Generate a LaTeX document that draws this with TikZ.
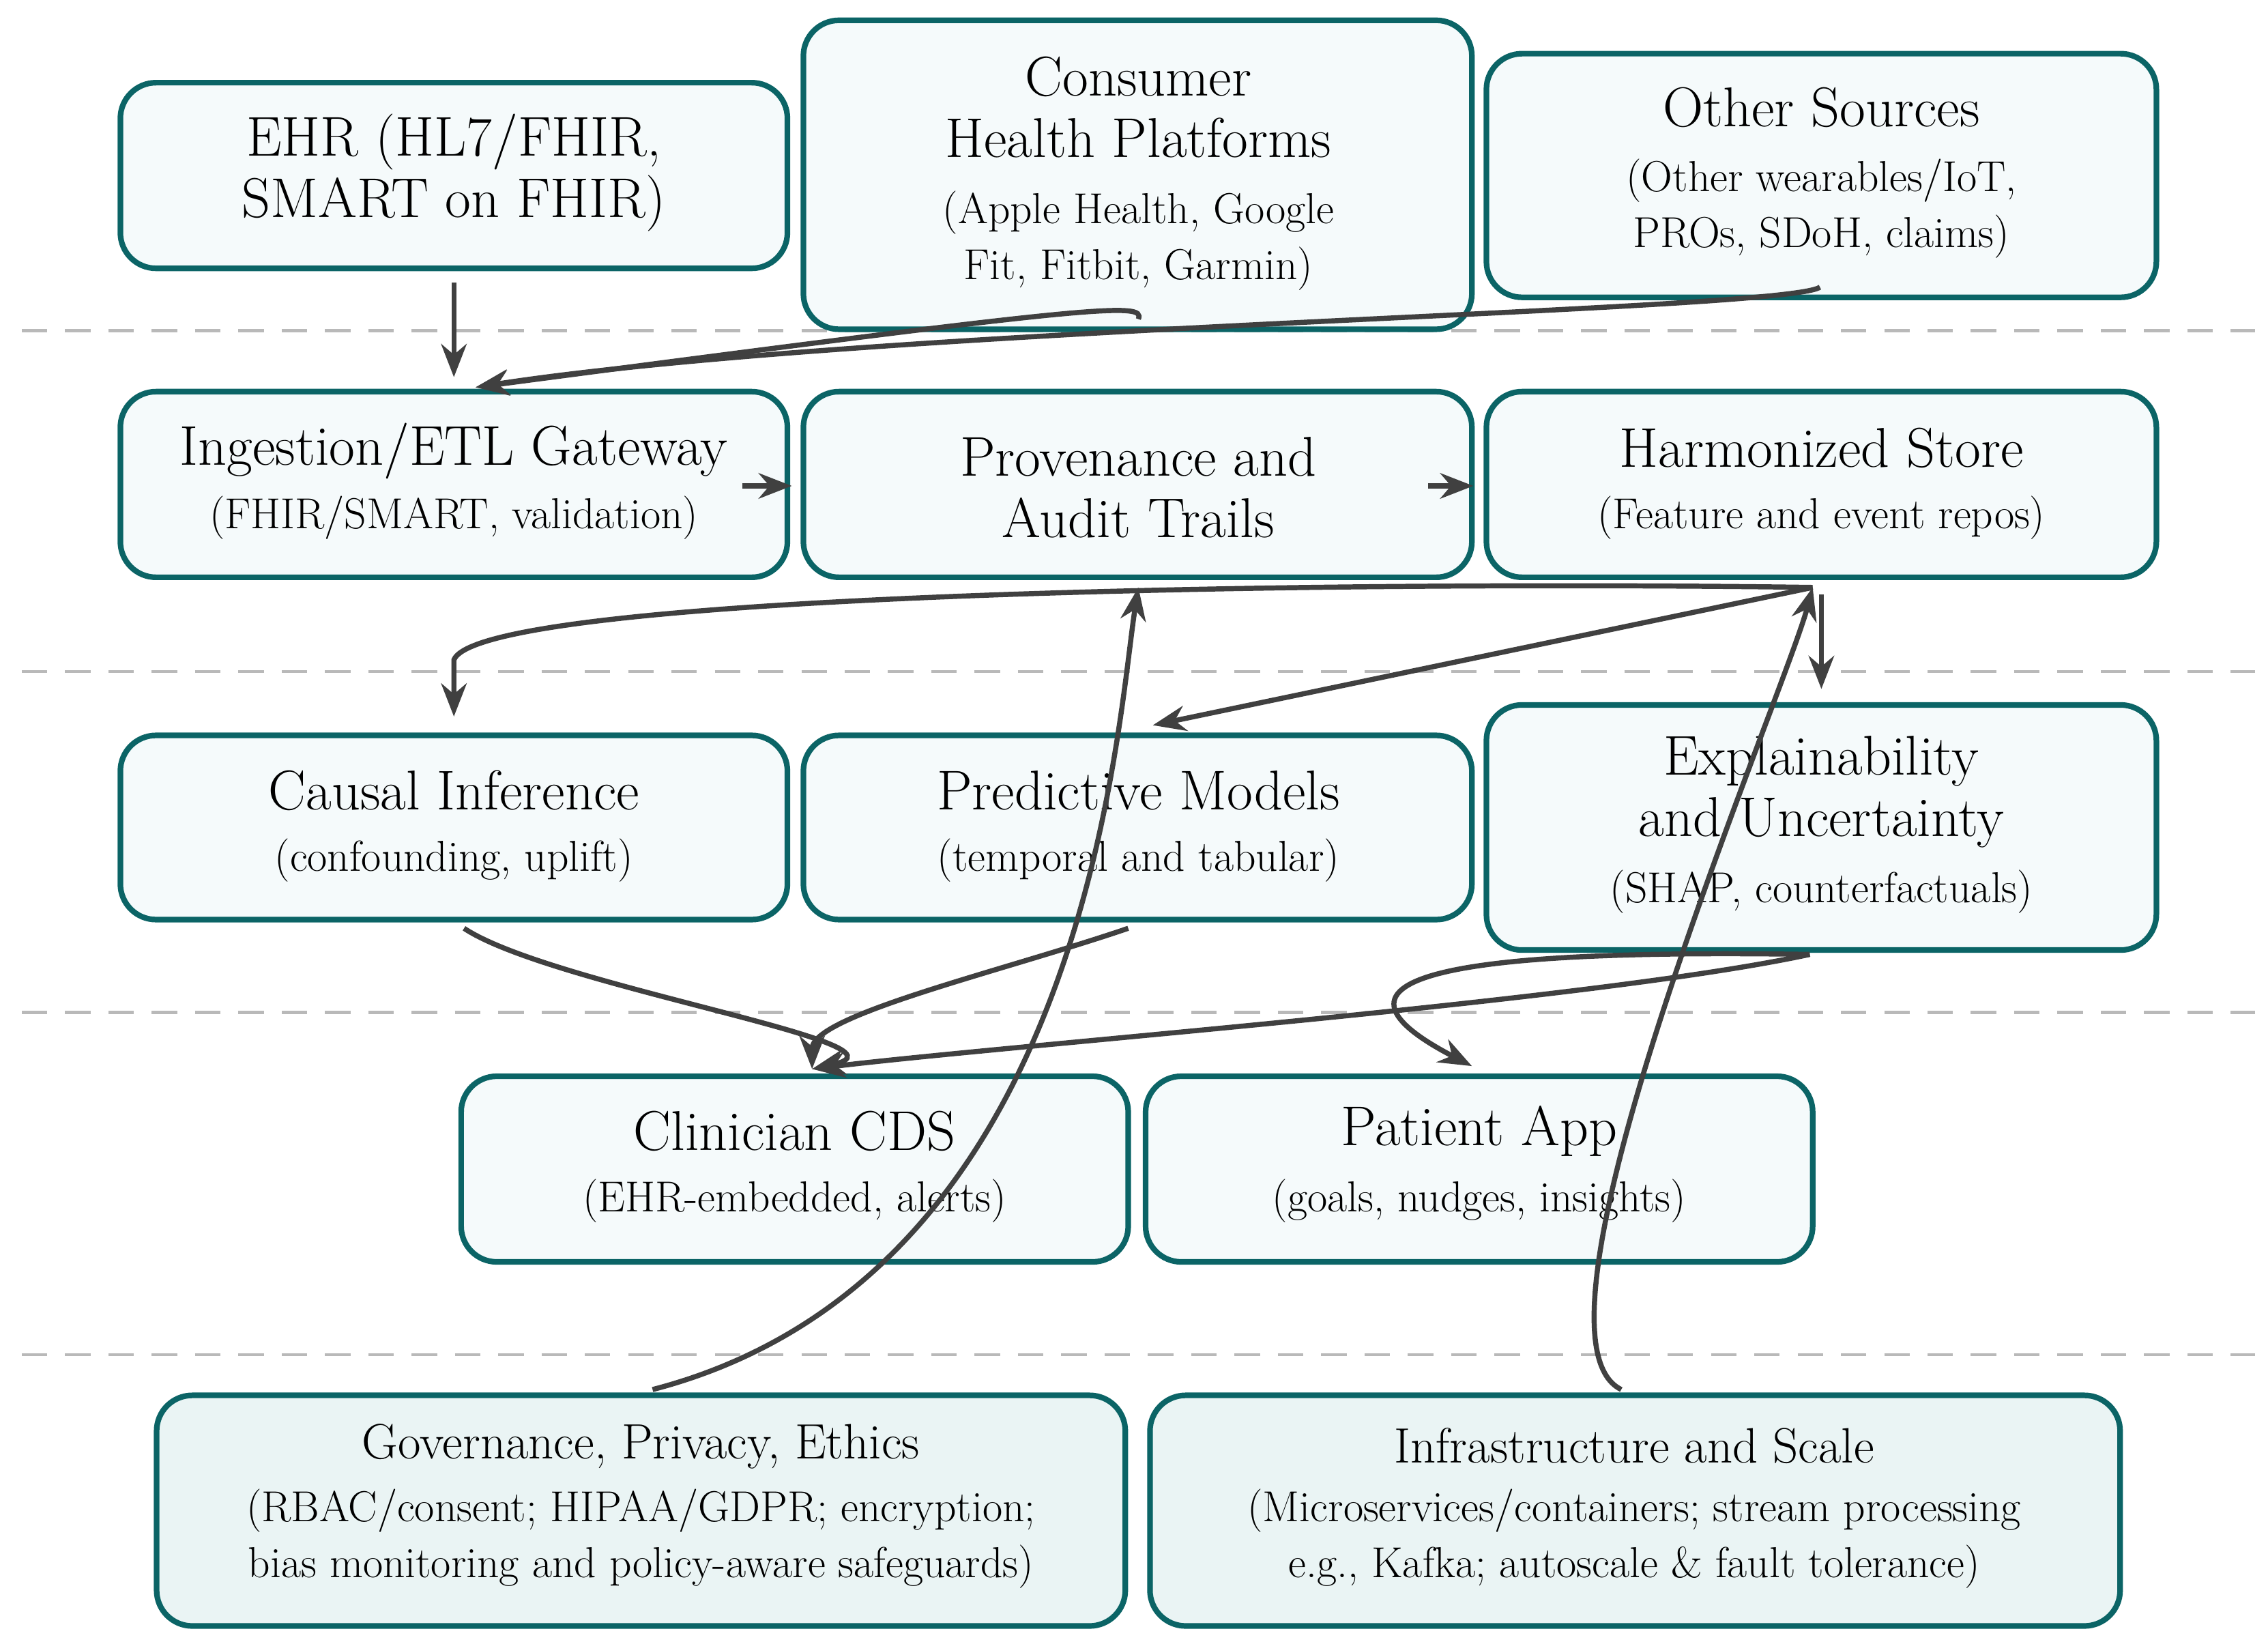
\documentclass[tikz,border=0pt]{standalone}
\usetikzlibrary{arrows.meta}
\definecolor{bord}{HTML}{0B6466}
\definecolor{fillA}{HTML}{F5FAFB}
\definecolor{fillB}{HTML}{EAF4F4}
\definecolor{arr}{HTML}{404040}
\begin{document}
\begin{tikzpicture}[x=0.02cm,y=-0.02cm,
  box/.style={draw=bord,line width=2.2pt,rounded corners=14pt,fill=fillA,inner sep=0pt},
  boxb/.style={box,fill=fillB},
  T/.style={font=\fontsize{22}{24}\selectfont,align=center},
  S/.style={font=\fontsize{17}{22}\selectfont,align=center},
  ar/.style={draw=arr,line width=2pt,-{Stealth[length=13pt,width=10pt]}},
  sep/.style={draw=gray!55,dashed,line width=1.2pt,dash pattern=on 10pt off 7pt}]
\useasboundingbox (0,0) rectangle (1564,1132);
\foreach \y in {228,463,698,934} \draw[sep] (15,\y) -- (1555,\y);
% boxes
\draw[box] (83,57) rectangle (543,185);
\node[T] (ehr) at (313,119) {EHR (HL7/FHIR,\\SMART on FHIR)};
\draw[box] (554,14) rectangle (1015,227);
\node[T] (con) at (785,74) {Consumer\\Health Platforms};
\node[S] at (785,166) {(Apple Health, Google\\Fit, Fitbit, Garmin)};
\draw[box] (1025,37) rectangle (1487,205);
\node[T] (oth) at (1256,74) {Other Sources};
\node[S] at (1256,144) {(Other wearables/IoT,\\PROs, SDoH, claims)};
\draw[box] (83,270) rectangle (543,398);
\node[T] (ing) at (313,311) {Ingestion/ETL Gateway};
\node[S] at (313,357) {(FHIR/SMART, validation)};
\draw[box] (554,270) rectangle (1015,398);
\node[T] (prov) at (785,336) {Provenance and\\Audit Trails};
\draw[box] (1025,270) rectangle (1487,398);
\node[T] (har) at (1256,309) {Harmonized Store};
\node[S] at (1256,357) {(Feature and event repos)};
\draw[box] (83,507) rectangle (543,634);
\node[T] (caus) at (313,545) {Causal Inference};
\node[S] at (313,593) {(confounding, uplift)};
\draw[box] (554,507) rectangle (1015,634);
\node[T] (pred) at (785,545) {Predictive Models};
\node[S] at (785,593) {(temporal and tabular)};
\draw[box] (1025,486) rectangle (1487,655);
\node[T] (expl) at (1256,546) {Explainability\\and Uncertainty};
\node[S] at (1256,615) {(SHAP, counterfactuals)};
\draw[box] (318,742) rectangle (778,870);
\node[T] (cli) at (548,780) {Clinician CDS};
\node[S] at (548,828) {(EHR-embedded, alerts)};
\draw[box] (790,742) rectangle (1250,870);
\node[T] (pat) at (1020,780) {Patient App};
\node[S] at (1020,828) {(goals, nudges, insights)};
\draw[boxb] (108,962) rectangle (776,1121);
\node[T,font=\fontsize{19.5}{22}\selectfont] (gov) at (442,997) {Governance, Privacy, Ethics};
\node[S] at (442,1061) {(RBAC/consent; HIPAA/GDPR; encryption;\\bias monitoring and policy-aware safeguards)};
\draw[boxb] (793,962) rectangle (1462,1121);
\node[T,font=\fontsize{19.5}{22}\selectfont] (inf) at (1127,997) {Infrastructure and Scale};
\node[S] at (1127,1061) {(Microservices/containers; stream processing\\e.g., Kafka; autoscale \& fault tolerance)};
% anchor coordinates
\coordinate (ehrB) at (313,195); \coordinate (ingT) at (313,260);
\coordinate (ingT2) at (328,267);
\coordinate (conB) at (785,220); \coordinate (othB) at (1255,198);
\coordinate (ingR) at (512,335); \coordinate (provL) at (546,335);
\coordinate (provR) at (985,335); \coordinate (harL) at (1016,335);
\coordinate (harB) at (1250,405); \coordinate (causT) at (313,494);
\coordinate (predT) at (795,500); \coordinate (harB2) at (1256,410); \coordinate (explT) at (1256,475);
\coordinate (causB) at (320,640); \coordinate (predB) at (778,640); \coordinate (explB) at (1248,658);
\coordinate (cliT) at (560,737); \coordinate (patT) at (1015,735);
\coordinate (govT) at (450,958); \coordinate (provB) at (785,405);
\coordinate (infT) at (1118,958); \coordinate (harB3) at (1250,405);
% connectors
\draw[ar] (ehrB) -- (ingT);
\draw[ar] (conB) .. controls (790,208) and (760,210) .. (ingT2);
\draw[ar] (othB) .. controls (1230,215) and (600,225) .. (ingT2);
\draw[ar] (ingR) -- (provL);
\draw[ar] (provR) -- (harL);
\draw[ar] (harB) .. controls (900,400) and (330,410) .. (313,455) -- (causT);
\draw[ar] (harB) -- (predT);
\draw[ar] (harB2) -- (explT);
\draw[ar] (causB) .. controls (380,680) and (640,720) .. (cliT);
\draw[ar] (predB) .. controls (690,670) and (560,700) .. (cliT);
\draw[ar] (explB) .. controls (1100,690) and (700,720) .. (cliT);
\draw[ar] (explB) .. controls (1050,655) and (880,665) .. (patT);
\draw[ar] (govT) .. controls (750,880) and (770,500) .. (provB);
\draw[ar] (infT) .. controls (1040,920) and (1230,480) .. (harB3);
\end{tikzpicture}
\end{document}
